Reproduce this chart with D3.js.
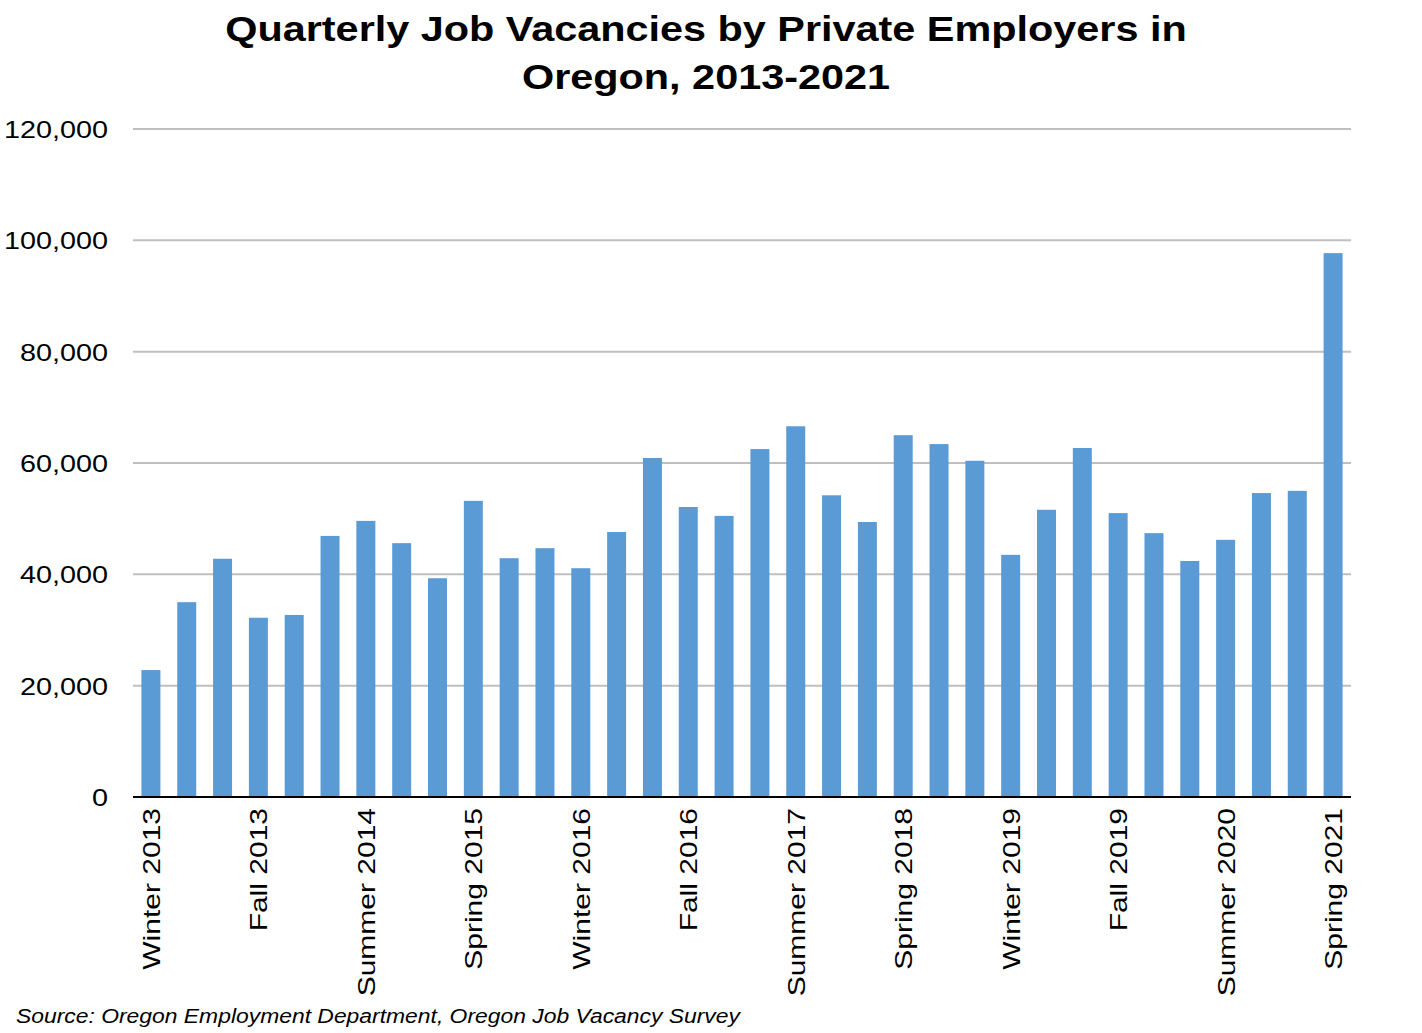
<!DOCTYPE html>
<html><head><meta charset="utf-8">
<script src="https://cdn.jsdelivr.net/npm/d3@7"></script>
<style>body{margin:0;background:#fff}text{font-family:"Liberation Sans",Arial,sans-serif}</style>
</head><body><svg id="c" width="1422" height="1033"></svg>
<script>
const seasons=["Winter","Spring","Summer","Fall"];
const categories=[];
for(let y=2013;y<=2021;y++)for(const s of seasons)categories.push(s+" "+y);
categories.length=34;
const values=[22800,35000,42800,32200,32700,46900,49600,45600,39300,53200,42900,44700,41100,47600,60900,52100,50500,62500,66600,54200,49400,65000,63400,60400,43500,51600,62700,51000,47400,42400,46200,54600,55000,97700];
const yTicks=[0,20000,40000,60000,80000,100000,120000];
const labelEvery=3;

const svg=d3.select("#c");
const x=d3.scaleBand().domain(categories).range([133,1351]).paddingInner(0.47).paddingOuter(0.235);
const y=d3.scaleLinear().domain([0,120000]).range([797,129]);

svg.append("g").selectAll("line").data(yTicks.slice(1)).join("line")
 .attr("x1",133).attr("x2",1351).attr("y1",d=>y(d)).attr("y2",d=>y(d))
 .attr("stroke","#bfbfbf").attr("stroke-width",2);
svg.append("g").selectAll("text").data(yTicks).join("text")
 .attr("transform",d=>`translate(108,${y(d)+9}) scale(1.2,1)`).attr("text-anchor","end").attr("font-size",24).text(d3.format(","));
svg.append("g").selectAll("rect").data(values).join("rect")
 .attr("x",(d,i)=>x(categories[i])).attr("width",x.bandwidth())
 .attr("y",d=>y(d)).attr("height",d=>y(0)-y(d)).attr("fill","#5b9bd5");
svg.append("line").attr("x1",133).attr("x2",1351).attr("y1",797).attr("y2",797).attr("stroke","#000").attr("stroke-width",2);
svg.append("g").selectAll("text").data(categories.filter((d,i)=>i%labelEvery===0)).join("text")
 .attr("transform",d=>`translate(${x(d)+x.bandwidth()/2+9},808) rotate(-90) scale(1.25,1)`)
 .attr("text-anchor","end").attr("font-size",24).text(d=>d);
const t=svg.append("text").attr("transform","translate(706,0) scale(1.15,1)").attr("text-anchor","middle").attr("font-size",36).attr("font-weight","bold");
t.append("tspan").attr("x",0).attr("y",41).text("Quarterly Job Vacancies by Private Employers in");
t.append("tspan").attr("x",0).attr("y",89).text("Oregon, 2013-2021");
svg.append("text").attr("transform","translate(16,1023) scale(1.09,1)").attr("font-size",21).attr("font-style","italic").text("Source: Oregon Employment Department, Oregon Job Vacancy Survey");
</script></body></html>
